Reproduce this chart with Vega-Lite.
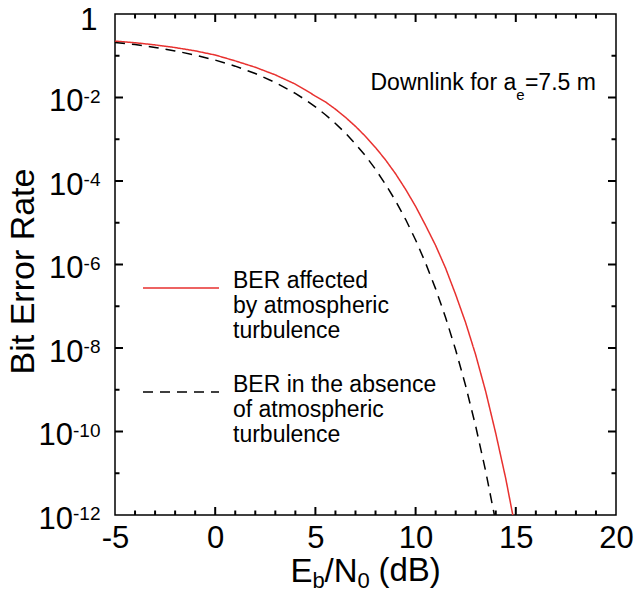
{
  "$schema": "https://vega.github.io/schema/vega-lite/v6.json",
  "width": 501,
  "height": 501,
  "autosize": {"type": "none"},
  "padding": {"left": 115, "top": 14, "right": 19, "bottom": 77},
  "background": "white",
  "config": {
    "font": "Liberation Sans",
    "view": {"stroke": "black", "strokeWidth": 1.5},
    "axis": {"grid": false, "domain": false, "labelFont": "Liberation Sans", "titleFont": "Liberation Sans", "labelColor": "black", "titleColor": "black", "titleFontWeight": "normal", "labelFlush": false, "labelOverlap": false, "labelBound": false},
    "legend": {"labelFont": "Liberation Sans", "labelColor": "black"}
  },
  "datasets": {
    "curves": [
      {"x": -5, "ber": 0.224, "series": "affected"},
      {"x": -4, "ber": 0.205, "series": "affected"},
      {"x": -3, "ber": 0.182, "series": "affected"},
      {"x": -2, "ber": 0.157, "series": "affected"},
      {"x": -1, "ber": 0.131, "series": "affected"},
      {"x": 0, "ber": 0.104, "series": "affected"},
      {"x": 1, "ber": 0.0753, "series": "affected"},
      {"x": 2, "ber": 0.053, "series": "affected"},
      {"x": 3, "ber": 0.0348, "series": "affected"},
      {"x": 4, "ber": 0.0209, "series": "affected"},
      {"x": 4.5, "ber": 0.0152, "series": "affected"},
      {"x": 5, "ber": 0.0108, "series": "affected"},
      {"x": 5.5, "ber": 0.00785, "series": "affected"},
      {"x": 6, "ber": 0.00525, "series": "affected"},
      {"x": 6.5, "ber": 0.00335, "series": "affected"},
      {"x": 7, "ber": 0.00204, "series": "affected"},
      {"x": 7.5, "ber": 0.00117, "series": "affected"},
      {"x": 8, "ber": 0.000633, "series": "affected"},
      {"x": 8.5, "ber": 0.00032, "series": "affected"},
      {"x": 9, "ber": 0.000149, "series": "affected"},
      {"x": 9.5, "ber": 6.33e-5, "series": "affected"},
      {"x": 10, "ber": 2.47e-5, "series": "affected"},
      {"x": 10.5, "ber": 8.6e-6, "series": "affected"},
      {"x": 11, "ber": 2.85e-6, "series": "affected"},
      {"x": 11.5, "ber": 8.1e-7, "series": "affected"},
      {"x": 12, "ber": 1.9e-7, "series": "affected"},
      {"x": 12.5, "ber": 4.0e-8, "series": "affected"},
      {"x": 13, "ber": 6.8e-9, "series": "affected"},
      {"x": 13.5, "ber": 9.0e-10, "series": "affected"},
      {"x": 14, "ber": 9.0e-11, "series": "affected"},
      {"x": 14.5, "ber": 7.4e-12, "series": "affected"},
      {"x": 14.85, "ber": 1.0e-12, "series": "affected"},
      {"x": -5, "ber": 0.207, "series": "absence"},
      {"x": -4, "ber": 0.1861, "series": "absence"},
      {"x": -3, "ber": 0.1584, "series": "absence"},
      {"x": -2, "ber": 0.1306, "series": "absence"},
      {"x": -1, "ber": 0.104, "series": "absence"},
      {"x": 0, "ber": 0.0786, "series": "absence"},
      {"x": 1, "ber": 0.0563, "series": "absence"},
      {"x": 2, "ber": 0.0375, "series": "absence"},
      {"x": 3, "ber": 0.0229, "series": "absence"},
      {"x": 4, "ber": 0.0125, "series": "absence"},
      {"x": 4.5, "ber": 0.00882, "series": "absence"},
      {"x": 5, "ber": 0.00597, "series": "absence"},
      {"x": 5.5, "ber": 0.00387, "series": "absence"},
      {"x": 6, "ber": 0.00239, "series": "absence"},
      {"x": 6.5, "ber": 0.0014, "series": "absence"},
      {"x": 7, "ber": 0.000771, "series": "absence"},
      {"x": 7.5, "ber": 0.0004, "series": "absence"},
      {"x": 8, "ber": 0.000191, "series": "absence"},
      {"x": 8.5, "ber": 8.3e-5, "series": "absence"},
      {"x": 9, "ber": 3.36e-5, "series": "absence"},
      {"x": 9.5, "ber": 1.21e-5, "series": "absence"},
      {"x": 10, "ber": 3.87e-6, "series": "absence"},
      {"x": 10.5, "ber": 1.08e-6, "series": "absence"},
      {"x": 11, "ber": 2.61e-7, "series": "absence"},
      {"x": 11.5, "ber": 5.33e-8, "series": "absence"},
      {"x": 12, "ber": 8.99e-9, "series": "absence"},
      {"x": 12.5, "ber": 1.23e-9, "series": "absence"},
      {"x": 13, "ber": 1.33e-10, "series": "absence"},
      {"x": 13.5, "ber": 1.1e-11, "series": "absence"},
      {"x": 13.93, "ber": 1.0e-12, "series": "absence"}
    ],
    "xmajor": [{"v": 0}, {"v": 5}, {"v": 10}, {"v": 15}],
    "xminor": [{"v": -4}, {"v": -3}, {"v": -2}, {"v": -1}, {"v": 1}, {"v": 2}, {"v": 3}, {"v": 4}, {"v": 6}, {"v": 7}, {"v": 8}, {"v": 9}, {"v": 11}, {"v": 12}, {"v": 13}, {"v": 14}, {"v": 16}, {"v": 17}, {"v": 18}, {"v": 19}],
    "ymajor": [{"v": 0.01}, {"v": 0.0001}, {"v": 1e-6}, {"v": 1e-8}, {"v": 1e-10}],
    "yminor": [{"v": 0.1}, {"v": 0.001}, {"v": 1e-5}, {"v": 1e-7}, {"v": 1e-9}, {"v": 1e-11}]
  },
  "data": {"name": "curves"},
  "resolve": {"axis": {"x": "independent", "y": "independent"}},
  "layer": [
    {
      "mark": {"type": "line", "strokeWidth": 1.5, "clip": true},
      "encoding": {
        "x": {"field": "x", "type": "quantitative", "scale": {"domain": [-5, 20], "nice": false, "zero": false},
          "axis": {"orient": "bottom", "values": [-5, 0, 5, 10, 15, 20], "ticks": false, "labelExpr": "datum.value < 0 ? '-' + abs(datum.value) : '' + datum.value", "labelFontSize": 31, "labelBaseline": "alphabetic", "labelPadding": 32,
            "title": "E", "titleFontSize": 33, "titleX": 175, "titleY": 66, "titleAlign": "left", "titleBaseline": "alphabetic", "titleAngle": 0}},
        "y": {"field": "ber", "type": "quantitative", "scale": {"type": "log", "domain": [1e-12, 1], "nice": false},
          "axis": {"orient": "left", "values": [0.01, 0.0001, 1e-6, 1e-8, 1e-10, 1e-12], "ticks": false, "labelExpr": "'10'", "labelFontSize": 31, "labelAlign": "right", "labelBaseline": "alphabetic", "labelOffset": 13,
            "labelPadding": {"condition": {"test": "datum.value < 1e-9", "value": 42.6}, "value": 32},
            "title": "Bit Error Rate", "titleFontSize": 34, "titleAngle": -90, "titleX": -82, "titleY": 257, "titleAlign": "center", "titleBaseline": "alphabetic"}},
        "order": {"field": "x", "type": "quantitative"},
        "color": {"field": "series", "type": "nominal", "scale": {"domain": ["affected", "absence"], "range": ["#e8312f", "black"]},
          "legend": {"orient": "none", "legendX": 27, "legendY": 235, "title": null, "symbolType": "stroke", "symbolSize": 5776, "symbolStrokeWidth": 1.5, "labelFontSize": 23, "labelOffset": 13, "labelLimit": 400, "labelBaseline": "alphabetic", "rowPadding": 10,
            "labelExpr": "datum.label == 'affected' ? ['BER affected', 'by atmospheric', 'turbulence'] : ['BER in the absence', 'of atmospheric', 'turbulence']"}},
        "strokeDash": {"field": "series", "type": "nominal", "scale": {"domain": ["affected", "absence"], "range": [[1, 0], [10, 7]]},
          "legend": {"orient": "none", "legendX": 27, "legendY": 235, "title": null, "symbolType": "stroke", "symbolSize": 5776, "symbolStrokeWidth": 1.5, "labelFontSize": 23, "labelOffset": 13, "labelLimit": 400, "labelBaseline": "alphabetic", "rowPadding": 10,
            "labelExpr": "datum.label == 'affected' ? ['BER affected', 'by atmospheric', 'turbulence'] : ['BER in the absence', 'of atmospheric', 'turbulence']"}}
      }
    },
    {
      "mark": {"type": "point", "opacity": 0},
      "encoding": {
        "x": {"field": "x", "type": "quantitative", "scale": {"domain": [-5, 20], "nice": false, "zero": false},
          "axis": {"orient": "bottom", "values": [-5, 0, 5, 10, 15, 20], "labels": false, "ticks": false, "offset": -8,
            "title": "b", "titleFontSize": 22, "titleX": 197, "titleY": 80, "titleAlign": "left", "titleBaseline": "alphabetic", "titleAngle": 0}},
        "y": {"field": "ber", "type": "quantitative", "scale": {"type": "log", "domain": [1e-12, 1], "nice": false},
          "axis": {"orient": "left", "values": [1, 0.01, 0.0001, 1e-6, 1e-8, 1e-10, 1e-12], "ticks": false, "labelExpr": "datum.value == 1 ? '1' : '-' + round(-log(datum.value) / LN10)", "labelAlign": "right", "labelBaseline": "alphabetic",
            "labelFontSize": {"condition": {"test": "datum.value == 1", "value": 31}, "value": 19},
            "labelPadding": {"condition": {"test": "datum.value == 1", "value": 18}, "value": 15},
            "labelOffset": {"condition": {"test": "datum.value == 1", "value": 15}, "value": 4.6},
            "title": null}}
      }
    },
    {
      "mark": {"type": "point", "opacity": 0},
      "encoding": {
        "x": {"field": "x", "type": "quantitative", "scale": {"domain": [-5, 20], "nice": false, "zero": false},
          "axis": {"orient": "bottom", "values": [-5, 20], "labels": false, "ticks": false, "offset": -4.5,
            "title": "/N", "titleFontSize": 33, "titleX": 209, "titleY": 70.5, "titleAlign": "left", "titleBaseline": "alphabetic", "titleAngle": 0}},
        "y": {"field": "ber", "type": "quantitative", "scale": {"type": "log", "domain": [1e-12, 1], "nice": false}, "axis": null}
      }
    },
    {
      "mark": {"type": "point", "opacity": 0},
      "encoding": {
        "x": {"field": "x", "type": "quantitative", "scale": {"domain": [-5, 20], "nice": false, "zero": false},
          "axis": {"orient": "top", "values": [-5, 20], "labels": false, "ticks": false, "offset": -8,
            "title": "0", "titleFontSize": 22, "titleX": 242, "titleY": 565, "titleAlign": "left", "titleBaseline": "alphabetic", "titleAngle": 0}},
        "y": {"field": "ber", "type": "quantitative", "scale": {"type": "log", "domain": [1e-12, 1], "nice": false}, "axis": null}
      }
    },
    {
      "mark": {"type": "point", "opacity": 0},
      "encoding": {
        "x": {"field": "x", "type": "quantitative", "scale": {"domain": [-5, 20], "nice": false, "zero": false},
          "axis": {"orient": "top", "values": [-5, 20], "labels": false, "ticks": false, "offset": -4.5,
            "title": "(dB)", "titleFontSize": 33, "titleX": 263, "titleY": 561.5, "titleAlign": "left", "titleBaseline": "alphabetic", "titleAngle": 0}},
        "y": {"field": "ber", "type": "quantitative", "scale": {"type": "log", "domain": [1e-12, 1], "nice": false}, "axis": null}
      }
    },
    {
      "data": {"name": "xmajor"},
      "mark": {"type": "rect", "color": "black", "xOffset": -1, "x2Offset": 1, "y2Offset": -8},
      "encoding": {
        "x": {"field": "v", "type": "quantitative", "axis": null}, "x2": {"field": "v"},
        "y": {"datum": 1e-12, "type": "quantitative", "scale": {"type": "log"}, "axis": null}, "y2": {"datum": 1e-12}
      }
    },
    {
      "data": {"name": "xminor"},
      "mark": {"type": "rect", "color": "black", "xOffset": -1, "x2Offset": 1, "y2Offset": -4.5},
      "encoding": {
        "x": {"field": "v", "type": "quantitative", "axis": null}, "x2": {"field": "v"},
        "y": {"datum": 1e-12, "type": "quantitative", "scale": {"type": "log"}, "axis": null}, "y2": {"datum": 1e-12}
      }
    },
    {
      "data": {"name": "xmajor"},
      "mark": {"type": "rect", "color": "black", "xOffset": -1, "x2Offset": 1, "y2Offset": 8},
      "encoding": {
        "x": {"field": "v", "type": "quantitative", "axis": null}, "x2": {"field": "v"},
        "y": {"datum": 1, "type": "quantitative", "scale": {"type": "log"}, "axis": null}, "y2": {"datum": 1}
      }
    },
    {
      "data": {"name": "xminor"},
      "mark": {"type": "rect", "color": "black", "xOffset": -1, "x2Offset": 1, "y2Offset": 4.5},
      "encoding": {
        "x": {"field": "v", "type": "quantitative", "axis": null}, "x2": {"field": "v"},
        "y": {"datum": 1, "type": "quantitative", "scale": {"type": "log"}, "axis": null}, "y2": {"datum": 1}
      }
    },
    {
      "data": {"name": "ymajor"},
      "mark": {"type": "rect", "color": "black", "yOffset": -1, "y2Offset": 1, "x2Offset": 8},
      "encoding": {
        "y": {"field": "v", "type": "quantitative", "scale": {"type": "log"}, "axis": null}, "y2": {"field": "v"},
        "x": {"datum": -5, "type": "quantitative", "axis": null}, "x2": {"datum": -5}
      }
    },
    {
      "data": {"name": "yminor"},
      "mark": {"type": "rect", "color": "black", "yOffset": -1, "y2Offset": 1, "x2Offset": 4.5},
      "encoding": {
        "y": {"field": "v", "type": "quantitative", "scale": {"type": "log"}, "axis": null}, "y2": {"field": "v"},
        "x": {"datum": -5, "type": "quantitative", "axis": null}, "x2": {"datum": -5}
      }
    },
    {
      "data": {"name": "ymajor"},
      "mark": {"type": "rect", "color": "black", "yOffset": -1, "y2Offset": 1, "x2Offset": -8},
      "encoding": {
        "y": {"field": "v", "type": "quantitative", "scale": {"type": "log"}, "axis": null}, "y2": {"field": "v"},
        "x": {"datum": 20, "type": "quantitative", "axis": null}, "x2": {"datum": 20}
      }
    },
    {
      "data": {"name": "yminor"},
      "mark": {"type": "rect", "color": "black", "yOffset": -1, "y2Offset": 1, "x2Offset": -4.5},
      "encoding": {
        "y": {"field": "v", "type": "quantitative", "scale": {"type": "log"}, "axis": null}, "y2": {"field": "v"},
        "x": {"datum": 20, "type": "quantitative", "axis": null}, "x2": {"datum": 20}
      }
    },
    {
      "data": {"values": [{"t": "Downlink for a"}]},
      "mark": {"type": "text", "align": "left", "baseline": "alphabetic", "fontSize": 23, "font": "Liberation Sans", "color": "black"},
      "encoding": {
        "x": {"datum": 7.75, "type": "quantitative", "axis": null},
        "y": {"datum": 0.01479, "type": "quantitative", "scale": {"type": "log"}, "axis": null},
        "text": {"field": "t"}
      }
    },
    {
      "data": {"values": [{"t": "e"}]},
      "mark": {"type": "text", "align": "left", "baseline": "alphabetic", "fontSize": 15, "font": "Liberation Sans", "color": "black", "dx": 145.7, "dy": 10},
      "encoding": {
        "x": {"datum": 7.75, "type": "quantitative", "axis": null},
        "y": {"datum": 0.01479, "type": "quantitative", "scale": {"type": "log"}, "axis": null},
        "text": {"field": "t"}
      }
    },
    {
      "data": {"values": [{"t": "=7.5 m"}]},
      "mark": {"type": "text", "align": "left", "baseline": "alphabetic", "fontSize": 23, "font": "Liberation Sans", "color": "black", "dx": 154.4},
      "encoding": {
        "x": {"datum": 7.75, "type": "quantitative", "axis": null},
        "y": {"datum": 0.01479, "type": "quantitative", "scale": {"type": "log"}, "axis": null},
        "text": {"field": "t"}
      }
    }
  ]
}
